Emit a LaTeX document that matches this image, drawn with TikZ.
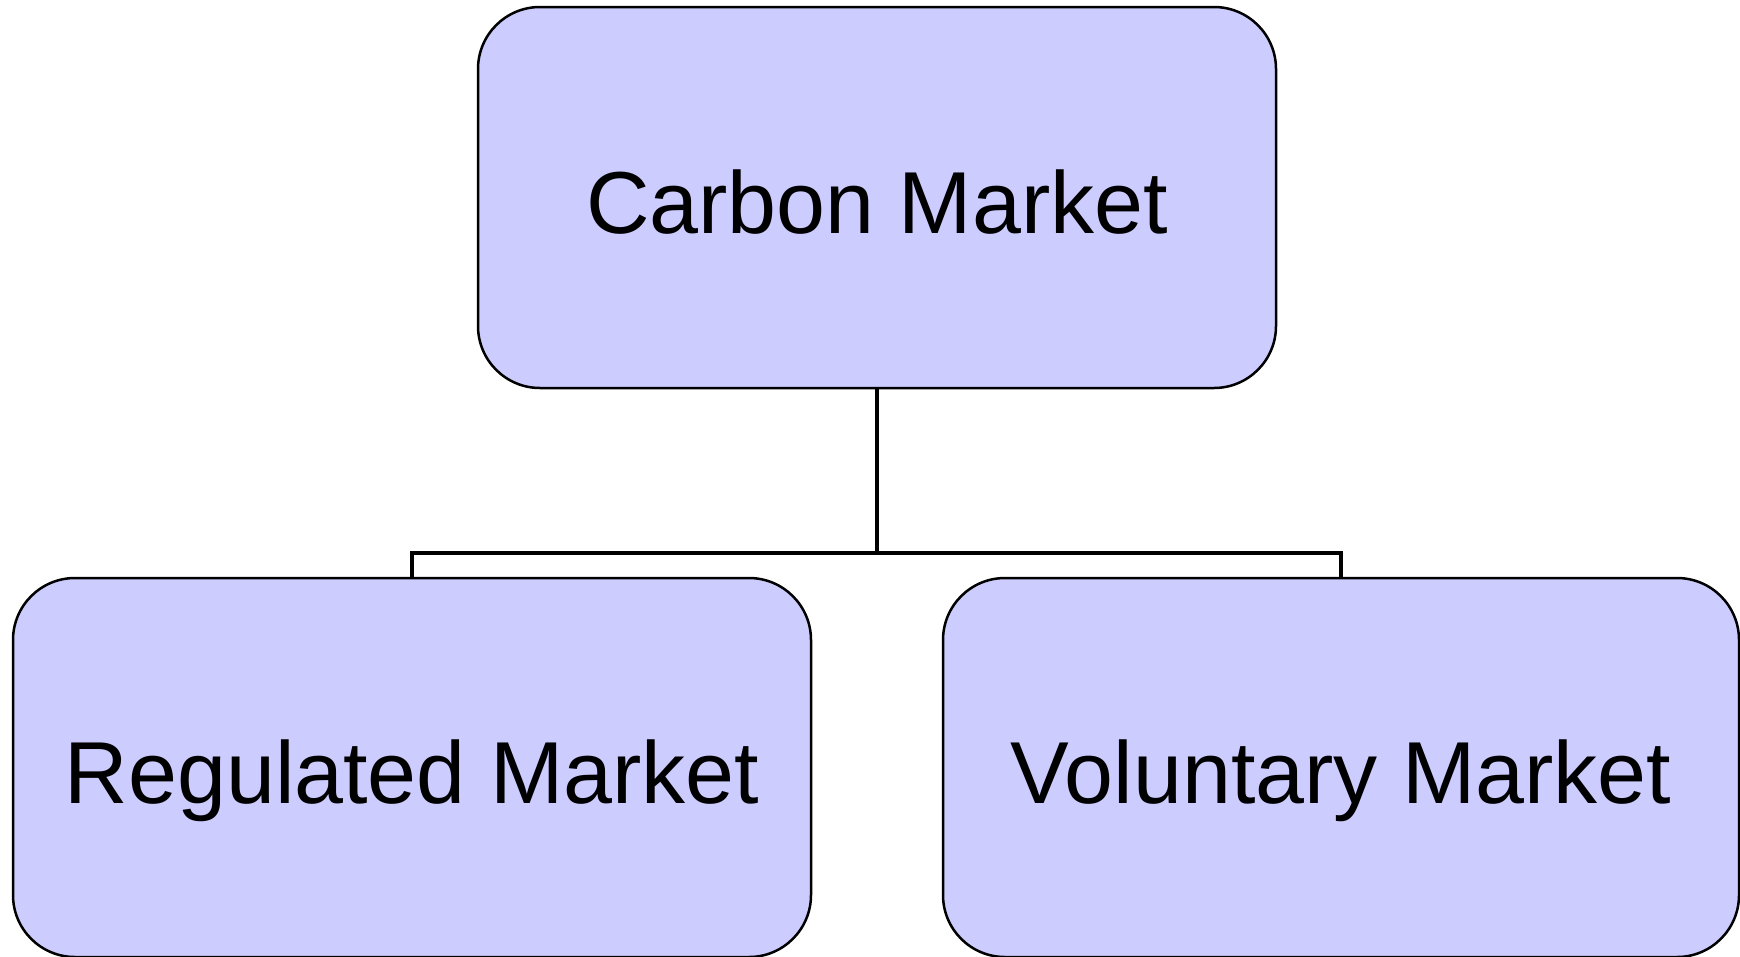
\documentclass[tikz,border=0pt]{standalone}
\usepackage{fontspec}
\setmainfont{Liberation Sans}
\definecolor{boxfill}{HTML}{CCCCFF}
\begin{document}
\begin{tikzpicture}[x=1pt,y=-1pt,
  mbox/.style={draw=black,line width=2.5pt,fill=boxfill,rounded corners=62pt,
    inner sep=0pt,text height=71pt,text depth=0pt,
    font=\fontsize{88}{100}\selectfont},
  conn/.style={draw=black,line width=4.5pt}]
\useasboundingbox (0,0) rectangle (1740,956);
\node[mbox,minimum width=798pt,minimum height=381pt] (top) at (877,197.5) {Carbon Market};
\node[mbox,minimum width=798pt,minimum height=379pt] (left) at (412,767.5) {Regulated Market};
\node[mbox,minimum width=796pt,minimum height=379pt] (right) at (1341,767.5) {Voluntary Market};
\coordinate (junc) at (877,553);
\draw[conn] (top.south) -- (junc);
\draw[conn] (left.north) |- (junc) -| (right.north);
\end{tikzpicture}
\end{document}
